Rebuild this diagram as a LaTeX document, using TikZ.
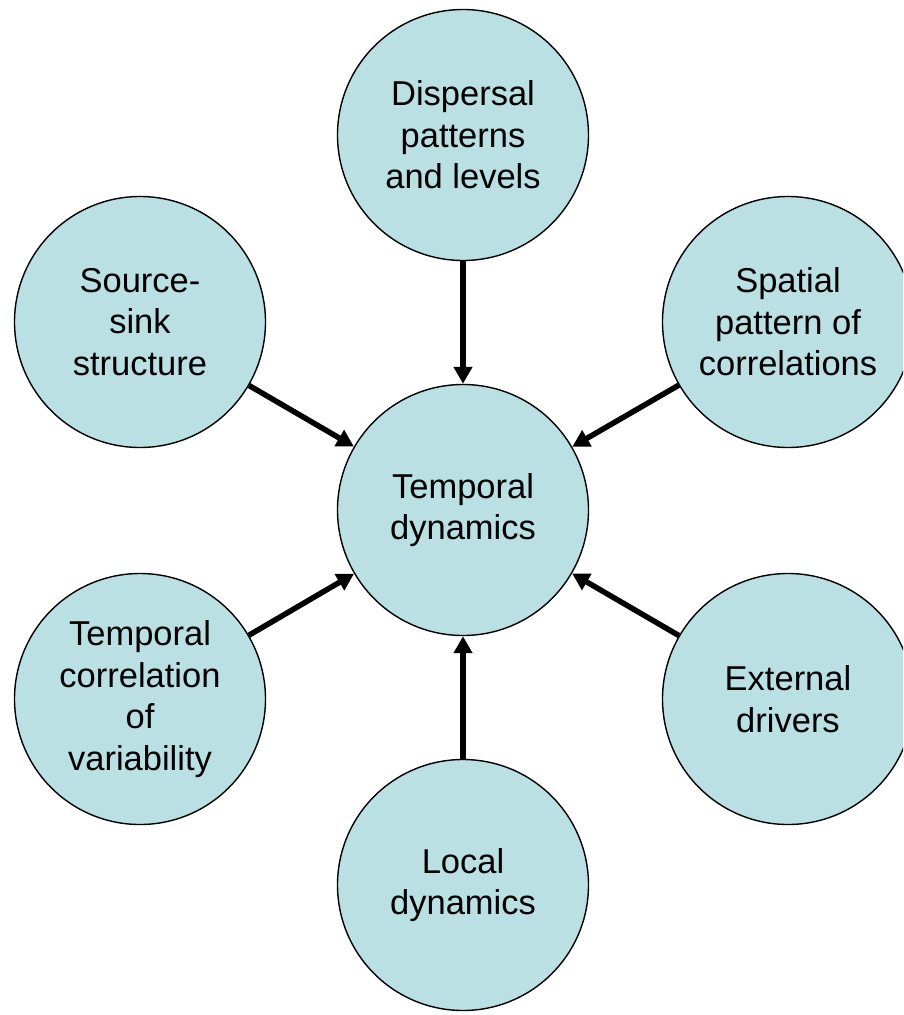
\documentclass[tikz,border=0pt]{standalone}
\usepackage{fontspec}
\setmainfont{Liberation Sans}
\usetikzlibrary{arrows.meta}
\definecolor{bubble}{HTML}{BAE0E3}
\begin{document}
\begin{tikzpicture}[x=1pt,y=-1pt,
  bubble/.style={circle,draw=black,line width=1.4pt,fill=bubble,minimum size=251pt,inner sep=0pt,align=center,
    font=\fontsize{34.5}{41.5}\selectfont},
  link/.style={line width=5.5pt,-{Triangle[length=17pt,width=18pt]}}]
\useasboundingbox (0,0) rectangle (903,1015);
\clip (0,0) rectangle (903,1015);
\node[bubble] (c) at (463,510) {Temporal\\dynamics};
\node[bubble] (n) at (463,135) {Dispersal\\patterns\\and levels};
\node[bubble] (nw) at (140,322) {Source-\\sink\\structure};
\node[bubble] (ne) at (788,322) {Spatial\\pattern of\\correlations};
\node[bubble] (sw) at (140,699) {Temporal\\correlation\\of\\variability};
\node[bubble] (se) at (788,699) {External\\drivers};
\node[bubble] (s) at (463,885) {Local\\dynamics};
\foreach \a in {n,nw,ne,sw,se,s} \draw[link] (\a) -- (c);
\end{tikzpicture}
\end{document}
